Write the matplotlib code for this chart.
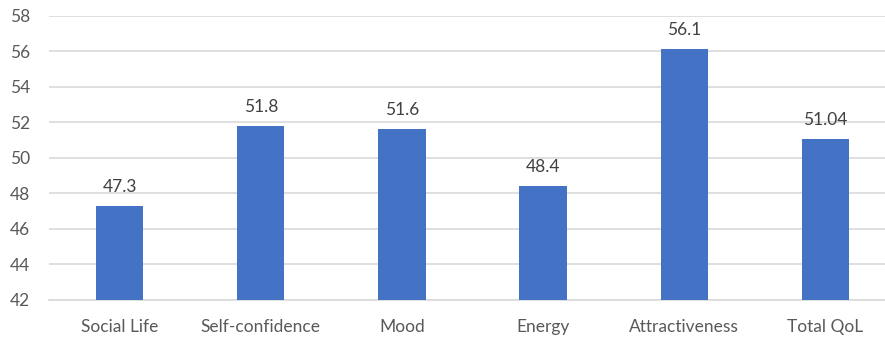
import matplotlib
matplotlib.use("Agg")
import matplotlib.pyplot as plt

categories = ["Social Life", "Self-confidence", "Mood", "Energy", "Attractiveness", "Total QoL"]
scores = [47.3, 51.8, 51.6, 48.4, 56.1, 51.04]
score_labels = ["47.3", "51.8", "51.6", "48.4", "56.1", "51.04"]
y_ticks = [42, 44, 46, 48, 50, 52, 54, 56, 58]

plt.rcParams["font.family"] = ["Lato", "DejaVu Sans"]
text_color = "#595959"
grid_color = "#D9D9D9"
bar_color = "#4472C4"

fig = plt.figure(figsize=(8.85, 3.37), dpi=100)
ax = fig.add_axes([0.0554, 0.1098, 0.957, 0.8442])

x = range(len(categories))
bars = ax.bar(x, [s - 42 for s in scores], bottom=42, width=0.335, color=bar_color, zorder=3)

for b, lab in zip(bars, score_labels):
    ax.annotate(lab, (b.get_x() + b.get_width() / 2, b.get_y() + b.get_height()),
                xytext=(0, 8), textcoords="offset points", ha="center", va="bottom",
                fontsize=12.5, color="#404040")

ax.set_ylim(42, 58)
ax.set_xlim(-0.5, len(categories) - 0.5)
ax.set_yticks(y_ticks)
ax.set_xticks(list(x))
ax.set_xticklabels(categories)
ax.yaxis.grid(True, color=grid_color, linewidth=1.2, zorder=0)
ax.tick_params(axis="both", length=0, labelsize=12.5, colors=text_color)
ax.tick_params(axis="y", pad=13.5)
ax.tick_params(axis="x", pad=14)
for s in ["top", "right", "left"]:
    ax.spines[s].set_visible(False)
ax.spines["bottom"].set_color(grid_color)
ax.spines["bottom"].set_linewidth(1.2)

fig.savefig("out.png", dpi=100)
